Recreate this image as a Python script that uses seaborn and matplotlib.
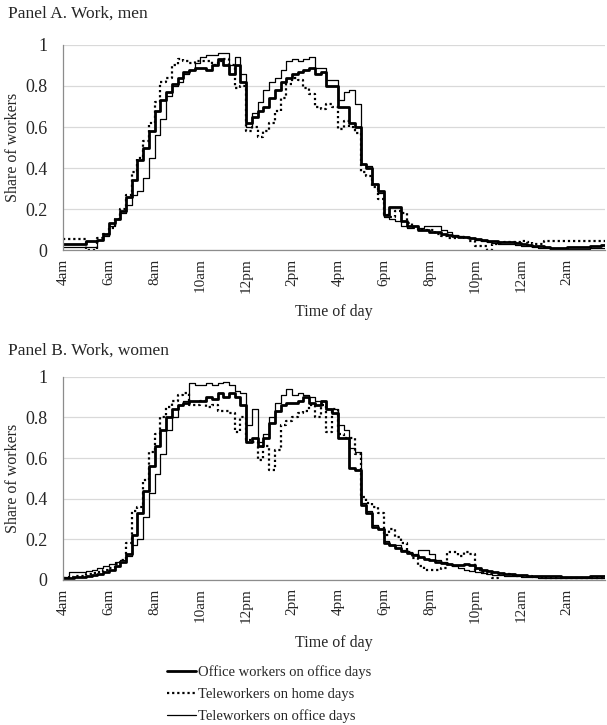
import numpy as np
import pandas as pd
import matplotlib.pyplot as plt
import seaborn as sns

# time grid: quarter hours from 4am to 4am next day
hours = np.arange(4, 28, 0.25)
tick_hours = [4, 6, 8, 10, 12, 14, 16, 18, 20, 22, 24, 26]
tick_labels = ["4am", "6am", "8am", "10am", "12pm", "2pm", "4pm", "6pm",
               "8pm", "10pm", "12am", "2am"]
ytick_values = [0, 0.2, 0.4, 0.6, 0.8, 1.0]
ytick_labels = ["0", "0.2", "0.4", "0.6", "0.8", "1"]

series_names = ["Office workers on office days",
                "Teleworkers on home days",
                "Teleworkers on office days"]

# Panel A, men
men_office = [
    0.03, 0.03, 0.03, 0.03, 0.045, 0.045, 0.05, 0.08,
    0.13, 0.15, 0.19, 0.26, 0.34, 0.44, 0.50, 0.58,
    0.68, 0.73, 0.77, 0.81, 0.84, 0.87, 0.88, 0.89,
    0.89, 0.88, 0.90, 0.93, 0.90, 0.86, 0.90, 0.82,
    0.62, 0.65, 0.68, 0.70, 0.74, 0.78, 0.82, 0.84,
    0.86, 0.87, 0.88, 0.89, 0.86, 0.87, 0.80, 0.80,
    0.70, 0.70, 0.62, 0.60, 0.42, 0.40, 0.32, 0.29,
    0.17, 0.21, 0.21, 0.14, 0.12, 0.12, 0.10, 0.10,
    0.09, 0.09, 0.08, 0.075, 0.07, 0.065, 0.065, 0.06,
    0.055, 0.05, 0.045, 0.045, 0.04, 0.04, 0.04, 0.035,
    0.03, 0.025, 0.02, 0.02, 0.015, 0.01, 0.01, 0.01,
    0.015, 0.015, 0.015, 0.015, 0.02, 0.02, 0.025, 0.03,
]
men_home = [
    0.055, 0.055, 0.055, 0.055, 0.0, 0.0, 0.06, 0.08,
    0.11, 0.15, 0.20, 0.27, 0.38, 0.45, 0.53, 0.62,
    0.72, 0.82, 0.84, 0.90, 0.93, 0.92, 0.91, 0.92,
    0.92, 0.92, 0.90, 0.92, 0.93, 0.90, 0.79, 0.80,
    0.58, 0.60, 0.55, 0.58, 0.62, 0.68, 0.74, 0.81,
    0.84, 0.83, 0.79, 0.76, 0.70, 0.69, 0.71, 0.70,
    0.59, 0.63, 0.60, 0.57, 0.38, 0.36, 0.31, 0.25,
    0.17, 0.16, 0.19, 0.18, 0.13, 0.11, 0.10, 0.10,
    0.10, 0.08, 0.07, 0.06, 0.06, 0.065, 0.06, 0.045,
    0.02, 0.02, 0.0, 0.03, 0.035, 0.04, 0.04, 0.04,
    0.045, 0.04, 0.03, 0.03, 0.045, 0.045, 0.045, 0.045,
    0.045, 0.045, 0.045, 0.045, 0.045, 0.045, 0.045, 0.045,
]
men_tele_office = [
    0.015, 0.015, 0.015, 0.015, 0.015, 0.015, 0.05, 0.07,
    0.12, 0.15, 0.18, 0.22, 0.27, 0.29, 0.35, 0.45,
    0.56, 0.64, 0.75, 0.80, 0.82, 0.86, 0.88, 0.91,
    0.94, 0.95, 0.95, 0.96, 0.96, 0.90, 0.94, 0.86,
    0.60, 0.67, 0.72, 0.78, 0.82, 0.84, 0.88, 0.92,
    0.93, 0.92, 0.93, 0.94, 0.89, 0.89, 0.83, 0.83,
    0.73, 0.77, 0.78, 0.71, 0.42, 0.41, 0.32, 0.28,
    0.16, 0.15, 0.14, 0.12, 0.11, 0.12, 0.11, 0.12,
    0.12, 0.12, 0.10, 0.09, 0.075, 0.07, 0.065, 0.06,
    0.05, 0.045, 0.04, 0.035, 0.03, 0.03, 0.03, 0.025,
    0.02, 0.02, 0.015, 0.01, 0.01, 0.005, 0.005, 0.005,
    0.005, 0.005, 0.005, 0.005, 0.01, 0.01, 0.01, 0.01,
]

# Panel B, women
women_office = [
    0.01, 0.01, 0.015, 0.015, 0.02, 0.025, 0.03, 0.04,
    0.05, 0.07, 0.09, 0.13, 0.22, 0.33, 0.44, 0.56,
    0.66, 0.74, 0.80, 0.84, 0.86, 0.87, 0.88, 0.88,
    0.88, 0.90, 0.89, 0.92, 0.90, 0.92, 0.90, 0.86,
    0.68, 0.70, 0.66, 0.70, 0.77, 0.83, 0.86, 0.87,
    0.87, 0.88, 0.90, 0.87, 0.86, 0.88, 0.84, 0.82,
    0.70, 0.70, 0.55, 0.54, 0.37, 0.33, 0.26, 0.25,
    0.18, 0.17, 0.155, 0.145, 0.135, 0.125, 0.115, 0.105,
    0.10, 0.09, 0.085, 0.08, 0.075, 0.075, 0.08, 0.075,
    0.06, 0.05, 0.045, 0.04, 0.035, 0.03, 0.03, 0.025,
    0.025, 0.02, 0.02, 0.02, 0.02, 0.02, 0.02, 0.015,
    0.015, 0.015, 0.015, 0.015, 0.02, 0.02, 0.02, 0.02,
]
women_home = [
    0.01, 0.015, 0.02, 0.02, 0.03, 0.035, 0.04, 0.05,
    0.06, 0.08, 0.10, 0.18, 0.34, 0.36, 0.49, 0.63,
    0.72, 0.80, 0.85, 0.88, 0.91, 0.92, 0.86, 0.86,
    0.88, 0.85, 0.86, 0.83, 0.83, 0.82, 0.73, 0.80,
    0.69, 0.68, 0.59, 0.66, 0.54, 0.64, 0.76, 0.78,
    0.80, 0.82, 0.83, 0.86, 0.80, 0.86, 0.73, 0.84,
    0.72, 0.70, 0.70, 0.62, 0.41, 0.38, 0.36, 0.33,
    0.22, 0.25, 0.21, 0.18, 0.14, 0.11, 0.07, 0.05,
    0.05, 0.05, 0.06, 0.14, 0.14, 0.12, 0.14, 0.13,
    0.05, 0.04, 0.03, 0.01, 0.03, 0.03, 0.025, 0.02,
    0.02, 0.02, 0.015, 0.015, 0.01, 0.01, 0.01, 0.01,
    0.01, 0.01, 0.01, 0.01, 0.01, 0.01, 0.01, 0.01,
]
women_tele_office = [
    0.015, 0.04, 0.04, 0.04, 0.045, 0.05, 0.06, 0.07,
    0.08, 0.09, 0.10, 0.12, 0.17, 0.20, 0.31, 0.43,
    0.52, 0.62, 0.74, 0.80, 0.86, 0.88, 0.97, 0.96,
    0.96, 0.97, 0.96, 0.97, 0.975, 0.96, 0.93, 0.92,
    0.76, 0.84, 0.68, 0.72, 0.80, 0.87, 0.91, 0.94,
    0.91, 0.92, 0.91, 0.90, 0.88, 0.88, 0.84, 0.84,
    0.76, 0.74, 0.65, 0.63, 0.38, 0.34, 0.27, 0.25,
    0.19, 0.17, 0.17, 0.15, 0.14, 0.13, 0.15, 0.15,
    0.13, 0.10, 0.09, 0.08, 0.07, 0.06, 0.05, 0.045,
    0.04, 0.035, 0.03, 0.025, 0.025, 0.02, 0.02, 0.02,
    0.015, 0.015, 0.015, 0.01, 0.01, 0.01, 0.01, 0.01,
    0.01, 0.01, 0.01, 0.01, 0.01, 0.01, 0.01, 0.01,
]

line_styles = {
    series_names[0]: dict(lw=2.0, ls="-"),
    series_names[1]: dict(lw=1.6, ls=(0, (1, 1.3))),
    series_names[2]: dict(lw=0.9, ls="-"),
}


def draw_panel(ax, values, label_y):
    for name, vals in zip(series_names, values):
        df = pd.DataFrame({"hour": hours, "share": vals})
        sns.lineplot(data=df, x="hour", y="share", ax=ax, color="black",
                     drawstyle="steps-post", estimator=None, label=name,
                     linewidth=line_styles[name]["lw"],
                     linestyle=line_styles[name]["ls"])
    ax.set_xlim(4, 27.67)
    ax.set_ylim(0, 1)
    ax.set_xticks(tick_hours)
    ax.set_xticklabels(tick_labels, rotation=90, fontsize=11)
    ax.set_yticks(ytick_values)
    ax.set_yticklabels(ytick_labels, fontsize=13)
    ax.tick_params(length=0)
    ax.tick_params(axis="y", pad=11)
    ax.tick_params(axis="x", pad=6)
    ax.yaxis.grid(True, color="#d9d9d9", linewidth=0.9)
    ax.xaxis.grid(False)
    ax.set_axisbelow(True)
    sns.despine(ax=ax)
    for side in ["left", "bottom"]:
        ax.spines[side].set_color("#8c8c8c")
        ax.spines[side].set_linewidth(0.9)
    ax.set_ylabel("Share of workers", fontsize=11.5)
    ax.yaxis.set_label_coords(-0.078, 0.5)
    ax.set_xlabel("Time of day", fontsize=11.5, va="top")
    ax.xaxis.set_label_coords(0.5, label_y)
    ax.get_legend().remove()


sns.set_style("white")
plt.rcParams["font.family"] = ["Liberation Serif", "DejaVu Serif"]

fig = plt.figure(figsize=(6.07, 7.25), dpi=100)
ax_a = fig.add_axes([0.1038, 0.655, 0.893, 0.283])
ax_b = fig.add_axes([0.1038, 0.20, 0.893, 0.2804])

draw_panel(ax_a, [men_office, men_home, men_tele_office], -0.262)
draw_panel(ax_b, [women_office, women_home, women_tele_office], -0.272)

fig.text(0.013, 1 - 14 / 725, "Panel A. Work, men", fontsize=12.5, va="center")
fig.text(0.013, 1 - 351 / 725, "Panel B. Work, women", fontsize=12.5, va="center")

handles, labels = ax_b.get_legend_handles_labels()
fig.legend(handles, labels, loc="upper left", bbox_to_anchor=(0.275, 0.082),
           frameon=False, fontsize=10.5, handlelength=2.0, handletextpad=0.1,
           labelspacing=0.56, borderpad=0, borderaxespad=0)

fig.savefig("out.png", dpi=100)
